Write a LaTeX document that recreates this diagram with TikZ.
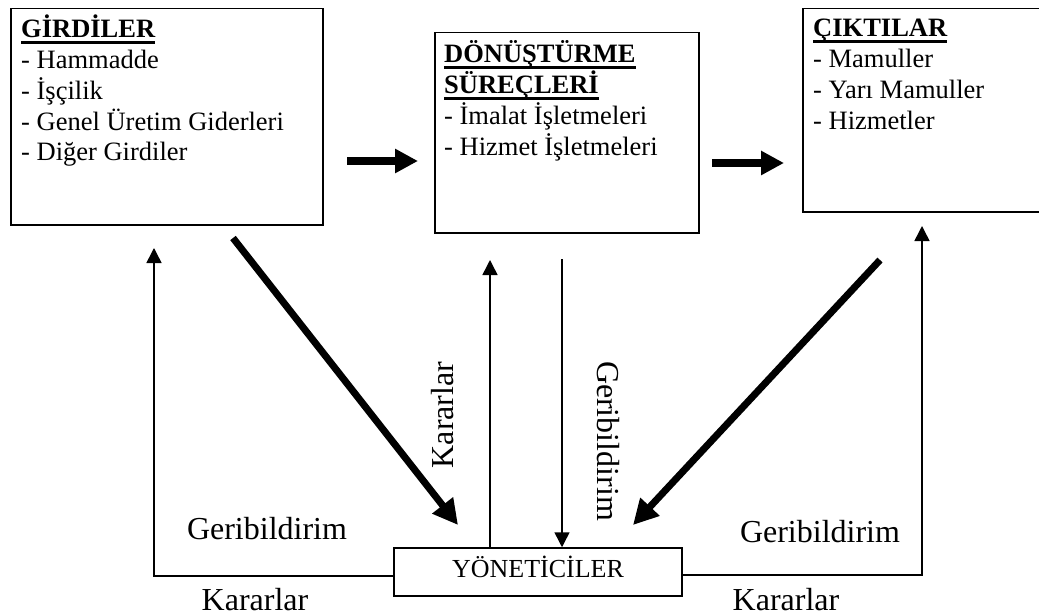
\documentclass[tikz,border=0pt]{standalone}
\usepackage{fontspec}
\setmainfont{Liberation Serif}
\usetikzlibrary{arrows.meta}

% bold heading with a heavy rule beneath it
\newsavebox\headbox
\newcommand{\headline}[1]{\sbox\headbox{\bfseries #1}\rlap{\rule[-6pt]{\wd\headbox}{2.7pt}}\usebox\headbox}

\begin{document}
\begin{tikzpicture}[x=1pt,y=-1pt,
  frame/.style={draw, line width=1.5pt, inner sep=0pt, anchor=north west},
  boxtext/.style={anchor=base west, inner sep=0pt, font=\fontsize{26.5}{30.7}\selectfont},
  lbl/.style={inner sep=0pt, anchor=base, font=\fontsize{32}{38}\selectfont},
  thinarrow/.style={line width=1.5pt, -{Triangle[width=15pt,length=15pt]}},
  fatarrow/.style={line width=8pt, -{Triangle[width=23pt,length=23pt]}},
  slantarrow/.style={line width=7pt, -{Triangle[width=25pt,length=25pt]}},
]
\useasboundingbox (0,0) rectangle (1039,615);
\clip (0,0) rectangle (1039,615);

% the three stage boxes
\node[frame, minimum width=312pt, minimum height=216pt] (in)  at (10,8)   {};
\node[frame, minimum width=264pt, minimum height=200pt] (pro) at (434,32) {};
\node[frame, minimum width=239pt, minimum height=203pt] (out) at (802,8)  {};

\node[boxtext] (intext) at (21,38) {\vtop{%
  \hbox{\headline{GİRDİLER}}
  \hbox{- Hammadde}
  \hbox{- İşçilik}
  \hbox{- Genel Üretim Giderleri}
  \hbox{- Diğer Girdiler}}};
\node[boxtext] (protext) at (444,63) {\vtop{%
  \hbox{\headline{DÖNÜŞTÜRME}}
  \hbox{\headline{SÜREÇLERİ}}
  \hbox{- İmalat İşletmeleri}
  \hbox{- Hizmet İşletmeleri}}};
\node[boxtext] (outtext) at (813,37) {\vtop{%
  \hbox{\headline{ÇIKTILAR}}
  \hbox{- Mamuller}
  \hbox{- Yarı Mamuller}
  \hbox{- Hizmetler}}};

% managers
\node[draw, line width=1.5pt, inner sep=0pt, minimum width=288pt, minimum height=48pt,
      text height=17pt, text depth=6pt, font=\fontsize{26}{30}\selectfont]
  (yon) at (538,572) {YÖNETİCİLER};

% flow between the stages
\coordinate (h1s) at (347,161);
\coordinate (h1e) at (418,161);
\coordinate (h2s) at (712,163);
\coordinate (h2e) at (784,163);
\draw[fatarrow] (h1s) -- (h1e);
\draw[fatarrow] (h2s) -- (h2e);

% slanted flows into the managers
\coordinate (d1s) at (233,238);
\coordinate (d1e) at (458,525);
\coordinate (d2s) at (880,260);
\coordinate (d2e) at (633,525);
\draw[slantarrow] (d1s) -- (d1e);
\draw[slantarrow] (d2s) -- (d2e);

% decision and feedback loops
\coordinate (lb) at (154,576);
\coordinate (lt) at (154,248);
\coordinate (rb) at (922,575);
\coordinate (rt) at (922,226);
\coordinate (ka) at (490,260);
\coordinate (ge) at (562,259);
\draw[thinarrow] (yon.west |- lb) -- (lb) -- (lt);
\draw[thinarrow] (yon.east |- rb) -- (rb) -- (rt);
\draw[thinarrow] (ka |- yon.north) -- (ka);
\draw[thinarrow] (ge) -- (ge |- yon.north);

% labels
\node[lbl] (gl) at (267,539) {Geribildirim};
\node[lbl] (gr) at (820,542) {Geribildirim};
\node[lbl] (kl) at (255,610) {Kararlar};
\node[lbl] (kr) at (786,610) {Kararlar};
\node[lbl, rotate=90] (kv) at (453,415) {Kararlar};
\node[lbl, rotate=-90] (gv) at (597,441) {Geribildirim};
\end{tikzpicture}
\end{document}
